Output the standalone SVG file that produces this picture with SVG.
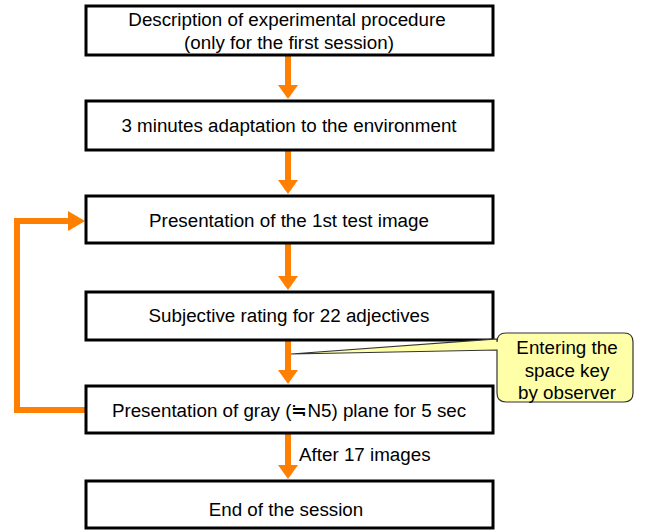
<svg xmlns="http://www.w3.org/2000/svg" width="646" height="532" viewBox="0 0 646 532">
<style>
.box{fill:#fff;stroke:#000;stroke-width:3}
.t{font-family:"Liberation Sans",Arial,sans-serif;font-size:18.8px;fill:#000;text-anchor:middle}
.a{fill:none;stroke:#FF7F00;stroke-width:6}
.h{fill:#FF7F00}
</style>
<rect width="646" height="532" fill="#fff"/>
<g id="connectors">
<line class="a" x1="288" y1="55" x2="288" y2="86"/>
<polygon class="h" points="278,85 298,85 288,99"/>
<line class="a" x1="288" y1="150" x2="288" y2="181"/>
<polygon class="h" points="278,180 298,180 288,194"/>
<line class="a" x1="288" y1="243" x2="288" y2="277"/>
<polygon class="h" points="278,276 298,276 288,290"/>
<line class="a" x1="288" y1="340" x2="288" y2="371"/>
<polygon class="h" points="278,370 298,370 288,384"/>
<line class="a" x1="288" y1="433" x2="288" y2="466"/>
<polygon class="h" points="278,465 298,465 288,479"/>
<polyline class="a" points="86,410 17,410 17,221 70,221"/>
<polygon class="h" points="68,211 68,231 85,221"/>
<text class="t" x="299" y="461" style="text-anchor:start">After 17 images</text>
</g>
<g id="n1"><rect class="box" x="86" y="6" width="407" height="49"/>
<text class="t" x="287" y="26">Description of experimental procedure</text>
<text class="t" x="289" y="49">(only for the first session)</text></g>
<g id="n2"><rect class="box" x="86" y="101" width="407" height="49"/>
<text class="t" x="289" y="132">3 minutes adaptation to the environment</text></g>
<g id="n3"><rect class="box" x="86" y="196" width="407" height="47"/>
<text class="t" x="289" y="227">Presentation of the 1st test image</text></g>
<g id="n4"><rect class="box" x="86" y="292" width="407" height="48"/>
<text class="t" x="289" y="322">Subjective rating for 22 adjectives</text></g>
<g id="n5"><rect class="box" x="86" y="386" width="407" height="47"/>
<text class="t" x="289" y="417">Presentation of gray (≒N5) plane for 5 sec</text></g>
<g id="n6"><rect class="box" x="86" y="481" width="407" height="47"/>
<text class="t" x="286" y="516">End of the session</text></g>
<g id="callout">
<path d="M506,333 H624 Q633,333 633,342 V393 Q633,402 624,402 H506 Q497,402 497,393 V350 L291,354 L497,339 V342 Q497,333 506,333 Z" fill="#FFFFA8" stroke="#333" stroke-width="1.2"/>
<text class="t" x="567" y="354">Entering the</text>
<text class="t" x="567" y="377">space key</text>
<text class="t" x="567" y="399">by observer</text>
</g>
</svg>
